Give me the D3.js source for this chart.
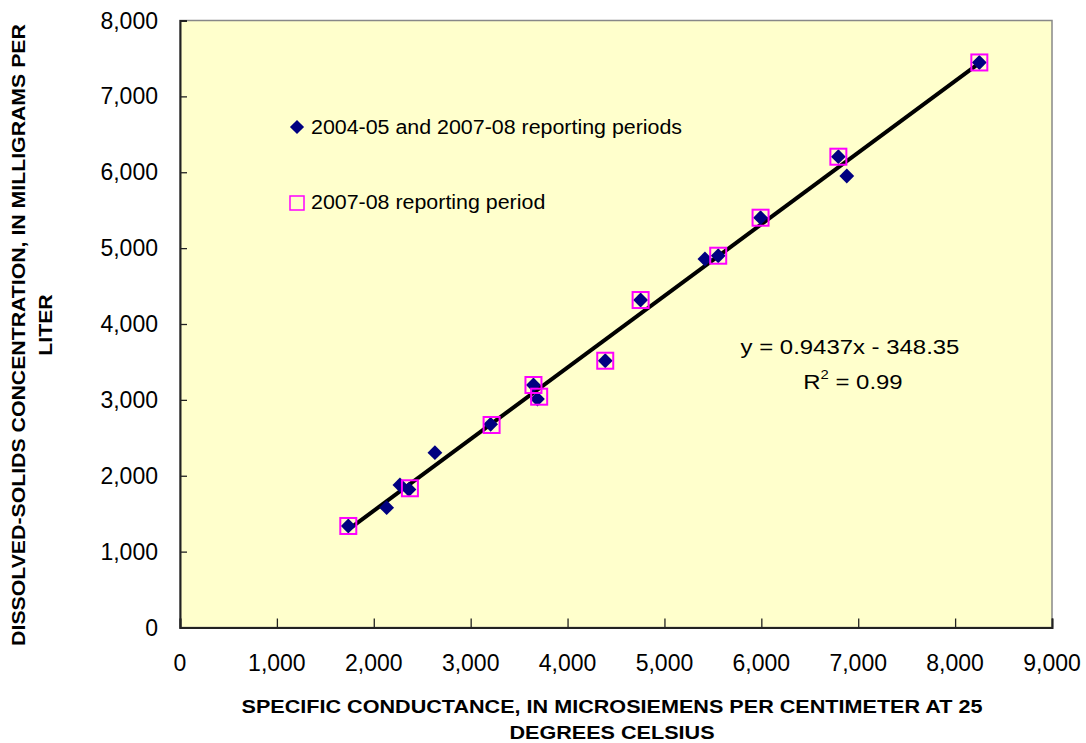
<!DOCTYPE html>
<html>
<head>
<meta charset="utf-8">
<script src="https://cdn.jsdelivr.net/npm/d3@7"></script>
<style>
  body { margin: 0; background: #fff; }
  svg text { font-family: "Liberation Sans", Arial, sans-serif; fill: #000; }
</style>
</head>
<body>
<svg id="chart" width="1086" height="743"></svg>
<script>
// both reporting periods (diamonds)
const allX = [1737, 2133, 2270, 2363, 2631, 3206, 3648, 3689, 4389, 4754, 5418, 5555, 5992, 6795, 6882, 8250];
const allY = [1338, 1579, 1878, 1819, 2304, 2678, 3196, 3012, 3516, 4316, 4857, 4900, 5401, 6205, 5951, 7447];
// 2007-08 reporting period (squares)
const recentX = [1737, 2373, 3216, 3648, 3707, 4389, 4754, 5555, 5992, 6795, 8250];
const recentY = [1338, 1835, 2669, 3196, 3042, 3516, 4316, 4900, 5401, 6205, 7447];
const xTicks = [0, 1000, 2000, 3000, 4000, 5000, 6000, 7000, 8000, 9000];
const yTicks = [0, 1000, 2000, 3000, 4000, 5000, 6000, 7000, 8000];
const slope = 0.9437, intercept = -348.35;

const fmt = d3.format(',');
const svg = d3.select('#chart');
const M = {left: 180, top: 20.5, right: 1052, bottom: 627.5};

const x = d3.scaleLinear().domain([0, 9000]).range([M.left, M.right]);
const y = d3.scaleLinear().domain([0, 8000]).range([M.bottom, M.top]);

// text helper: horizontally stretched like the original export
const label = (g, tx, ty, str, size, sx, anchor, weight) => {
  return g.append('text')
    .attr('transform', `translate(${tx},${ty}) scale(${sx},1)`)
    .attr('text-anchor', anchor || 'start')
    .attr('font-size', size)
    .attr('font-weight', weight || 'normal')
    .text(str);
};

// plot background
svg.append('rect')
  .attr('x', M.left).attr('y', M.top)
  .attr('width', M.right - M.left).attr('height', M.bottom - M.top)
  .attr('fill', '#ffffcc')
  .attr('stroke', '#888').attr('stroke-width', 1.5);

// axes
const xAxis = svg.append('g')
  .attr('transform', `translate(0,${M.bottom})`)
  .call(d3.axisBottom(x).tickValues(xTicks).tickSize(-9).tickFormat(''));
const yAxis = svg.append('g')
  .attr('transform', `translate(${M.left},0)`)
  .call(d3.axisLeft(y).tickValues(yTicks).tickSize(-7).tickFormat(''));
[xAxis, yAxis].forEach(a => {
  a.select('.domain').attr('stroke', '#222').attr('stroke-width', 2);
  a.selectAll('.tick line').attr('stroke', '#222').attr('stroke-width', 1.3);
});

xTicks.forEach(v => label(svg, x(v), 671, fmt(v), 23, 1.0, 'middle'));
yTicks.forEach(v => label(svg, 158, y(v) + 8, fmt(v), 23, 1.0, 'end'));

// regression line across the data range
const x0 = d3.min(allX), x1 = d3.max(allX);
svg.append('line')
  .attr('x1', x(x0)).attr('y1', y(slope * x0 + intercept))
  .attr('x2', x(x1)).attr('y2', y(slope * x1 + intercept))
  .attr('stroke', '#000').attr('stroke-width', 4);

// diamonds
svg.append('g').selectAll('path')
  .data(allX)
  .join('path')
  .attr('d', d3.symbol(d3.symbolSquare, 110))
  .attr('transform', (d, i) => `translate(${x(d)},${y(allY[i])}) rotate(45)`)
  .attr('fill', '#000080');

// squares
svg.append('g').selectAll('rect')
  .data(recentX)
  .join('rect')
  .attr('x', d => x(d) - 8)
  .attr('y', (d, i) => y(recentY[i]) - 8)
  .attr('width', 16).attr('height', 16)
  .attr('fill', 'none')
  .attr('stroke', '#ff00ff').attr('stroke-width', 2);

// legend
svg.append('path')
  .attr('d', d3.symbol(d3.symbolSquare, 100))
  .attr('transform', 'translate(297,127) rotate(45)')
  .attr('fill', '#000080');
label(svg, 311, 134, '2004-05 and 2007-08 reporting periods', 20, 1.07);
svg.append('rect')
  .attr('x', 290).attr('y', 196).attr('width', 14).attr('height', 14)
  .attr('fill', 'none').attr('stroke', '#ff00ff').attr('stroke-width', 1.5);
label(svg, 311, 209, '2007-08 reporting period', 20, 1.07);

// equation
label(svg, 850, 354, 'y = 0.9437x - 348.35', 21, 1.14, 'middle');
const r2 = label(svg, 853, 389, '', 21, 1.14, 'middle');
r2.append('tspan').text('R');
r2.append('tspan').attr('font-size', 13).attr('dy', -10).text('2');
r2.append('tspan').attr('dy', 10).text(' = 0.99');

// axis titles
label(svg, 612, 713, 'SPECIFIC CONDUCTANCE, IN MICROSIEMENS PER CENTIMETER AT 25', 18, 1.2, 'middle', 'bold');
label(svg, 612, 739, 'DEGREES CELSIUS', 18, 1.2, 'middle', 'bold');

const yt = svg.append('g').attr('transform', 'translate(0,335) rotate(-90)');
label(yt, 0, 25, 'DISSOLVED-SOLIDS CONCENTRATION, IN MILLIGRAMS PER', 19, 1.12, 'middle', 'bold');
label(yt, 10, 52, 'LITER', 19, 1.12, 'middle', 'bold');
</script>
</body>
</html>
